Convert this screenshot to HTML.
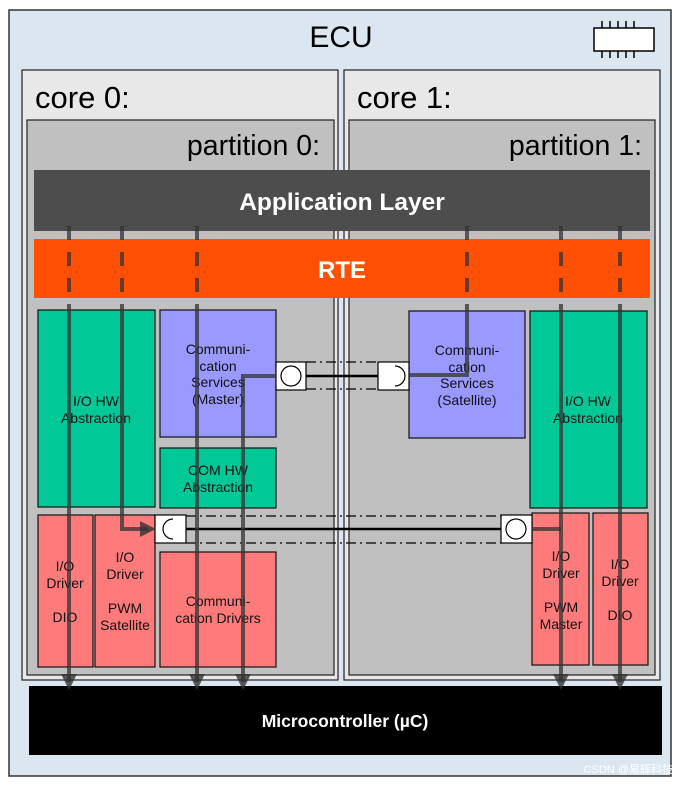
<!DOCTYPE html>
<html><head><meta charset="utf-8"><style>
html,body{margin:0;padding:0;background:#fff;}
svg{display:block;}
text{font-family:"Liberation Sans",Arial,sans-serif;}
</style></head><body>
<svg width="681" height="785" viewBox="0 0 681 785" xmlns="http://www.w3.org/2000/svg">
<defs>
<marker id="ah" markerWidth="4" markerHeight="4" refX="2" refY="2" orient="auto" markerUnits="strokeWidth">
<path d="M0,0 L4,2 L0,4 Z" fill="#333" fill-opacity="0.8"/>
</marker>
</defs>
<rect x="9" y="10" width="662" height="766" fill="#dce6f0" stroke="#333" stroke-width="1.5"/>
<text x="341" y="47" font-size="30" text-anchor="middle" fill="#000">ECU</text>
<g stroke="#000" stroke-width="1.5" fill="none">
<rect x="594" y="28" width="60" height="23" fill="#fff"/>
<path d="M602,21v7M610,21v7M618,21v7M626,21v7M634,21v7M602,51v7M610,51v7M618,51v7M626,51v7M634,51v7"/>
</g>
<rect x="22" y="70" width="316" height="610" fill="#e8e8e8" stroke="#222" stroke-width="1.2"/>
<rect x="344" y="70" width="316" height="610" fill="#e8e8e8" stroke="#222" stroke-width="1.2"/>
<text x="35" y="108" font-size="31">core 0:</text>
<text x="357" y="108" font-size="31">core 1:</text>
<rect x="27" y="120" width="307" height="555" fill="#c0c0c0" stroke="#222" stroke-width="1.2"/>
<rect x="349" y="120" width="306" height="555" fill="#c0c0c0" stroke="#222" stroke-width="1.2"/>
<text x="320" y="155" font-size="28.5" text-anchor="end">partition 0:</text>
<text x="642" y="155" font-size="28.5" text-anchor="end">partition 1:</text>
<rect x="34" y="170" width="616" height="61" fill="#4d4d4d"/>
<text x="342" y="210" font-size="24.5" font-weight="bold" fill="#fff" text-anchor="middle">Application Layer</text>
<rect x="34" y="239" width="616" height="59" fill="#ff5006"/>
<text x="342" y="278" font-size="24" font-weight="bold" fill="#fff" text-anchor="middle">RTE</text>

<g stroke="#111" stroke-width="1.2" font-size="14">
<rect x="38" y="310" width="117" height="197" fill="#00c896"/>
<rect x="160" y="310" width="116" height="127" fill="#9999ff"/>
<rect x="160" y="448" width="116" height="60" fill="#00c896"/>
<rect x="38" y="515" width="55" height="152" fill="#ff7b7b"/>
<rect x="95" y="515" width="60" height="152" fill="#ff7b7b"/>
<rect x="160" y="552" width="116" height="115" fill="#ff7b7b"/>
<rect x="409" y="311" width="116" height="127" fill="#9999ff"/>
<rect x="530" y="311" width="117" height="197" fill="#00c896"/>
<rect x="532" y="513" width="57" height="152" fill="#ff7b7b"/>
<rect x="593" y="513" width="55" height="152" fill="#ff7b7b"/>
</g>
<g font-size="14" fill="#111" text-anchor="middle">
<text x="96" y="406">I/O HW</text><text x="96" y="423">Abstraction</text>
<text x="218" y="354">Communi-</text><text x="218" y="371">cation</text><text x="218" y="387">Services</text><text x="218" y="404">(Master)</text>
<text x="218" y="475">COM HW</text><text x="218" y="492">Abstraction</text>
<text x="65" y="571">I/O</text><text x="65" y="588">Driver</text><text x="65" y="622">DIO</text>
<text x="125" y="562">I/O</text><text x="125" y="579">Driver</text><text x="125" y="613">PWM</text><text x="125" y="630">Satellite</text>
<text x="218" y="606">Communi-</text><text x="218" y="623">cation Drivers</text>
<text x="467" y="355">Communi-</text><text x="467" y="372">cation</text><text x="467" y="388">Services</text><text x="467" y="405">(Satellite)</text>
<text x="588" y="406">I/O HW</text><text x="588" y="423">Abstraction</text>
<text x="561" y="561">I/O</text><text x="561" y="578">Driver</text><text x="561" y="612">PWM</text><text x="561" y="629">Master</text>
<text x="620" y="569">I/O</text><text x="620" y="586">Driver</text><text x="620" y="620">DIO</text>
</g>

<rect x="29" y="686" width="633" height="69" fill="#000"/>
<text x="345" y="727" font-size="17.5" font-weight="bold" fill="#fff" text-anchor="middle">Microcontroller (µC)</text>

<g stroke="#000" fill="none">
<path d="M306,362H378M306,389H378" stroke-width="1.2" stroke-dasharray="10,4,2,4"/>
<path d="M306,376H378" stroke-width="2.5"/>
<path d="M186,516H501M186,543H501" stroke-width="1.2" stroke-dasharray="10,4,2,4"/>
<path d="M186,529H501" stroke-width="2.5"/>
</g>
<g stroke="#000" stroke-width="1.2">
<rect x="276" y="362" width="30" height="28" fill="#fff"/>
<circle cx="291" cy="376" r="10" fill="#fff"/>
<rect x="378" y="362" width="31" height="28" fill="#fff"/>
<path d="M395,366 A10,10 0 0 1 395,386" fill="none"/>
<rect x="155" y="515" width="31" height="28" fill="#fff"/>
<path d="M173,519 A10,10 0 0 0 173,539" fill="none"/>
<rect x="501" y="515" width="31" height="28" fill="#fff"/>
<circle cx="516" cy="529" r="10" fill="#fff"/>
</g>

<g stroke="#333" stroke-opacity="0.75" stroke-width="4" fill="none">
<g stroke-dasharray="14,12">
<path d="M69,226V310M122,226V310M197,226V310M467,226V310M561,226V310M620,226V310"/>
</g>
<path d="M69,310V682" marker-end="url(#ah)"/>
<path d="M122,310V529H148" marker-end="url(#ah)"/>
<path d="M197,310V682" marker-end="url(#ah)"/>
<path d="M276,376H243V682" marker-end="url(#ah)"/>
<path d="M467,310V375H409"/>
<path d="M561,310V682" marker-end="url(#ah)"/>
<path d="M532,529H561"/>
<path d="M620,310V682" marker-end="url(#ah)"/>
</g>
<text x="673" y="773" font-size="11" fill="#fff" text-anchor="end" style="font-family:'Liberation Sans','Noto Sans CJK SC',sans-serif">CSDN @易辉科技</text>
</svg>
</body></html>
